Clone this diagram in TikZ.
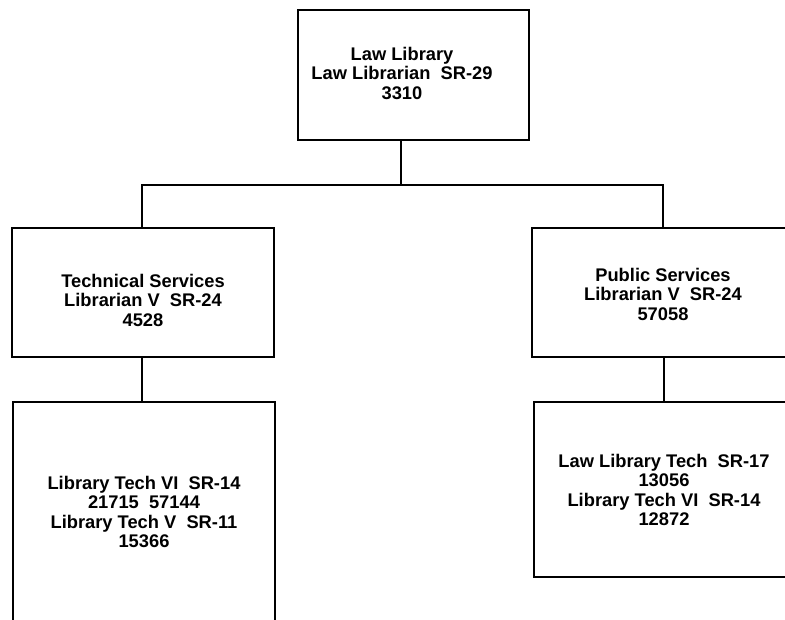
\documentclass[tikz,border=0pt]{standalone}
\usepackage{fontspec}
\setmainfont{Liberation Sans}
\begin{document}
\begin{tikzpicture}[x=1pt,y=-1pt,
  box/.style={draw=black,line width=2.8pt,fill=none},
  conn/.style={draw=black,line width=2.8pt},
  lbl/.style={align=center,font=\bfseries\fontsize{18.3}{19.5}\selectfont,inner sep=0pt}]
\useasboundingbox (0,0) rectangle (785,620);
\clip (0,0) rectangle (785,620);
% boxes
\draw[box] (298,10) rectangle (529,140);
\draw[box] (12,228) rectangle (274,357);
\draw[box] (532,228) rectangle (796,357);
\draw[box] (13,402) rectangle (275,640);
\draw[box] (534,402) rectangle (796,577);
% anchor points for connectors
\coordinate (topB) at (401,140);
\coordinate (hub) at (401,185);
\coordinate (tsT) at (142,228);
\coordinate (psT) at (663,228);
\coordinate (tsB) at (142,357);
\coordinate (psB) at (664,357);
\coordinate (ltT) at (142,402);
\coordinate (rtT) at (664,402);
\draw[conn] (topB) -- (hub);
\draw[conn] (tsT) |- (hub) -| (psT);
\draw[conn] (tsB) -- (ltT);
\draw[conn] (psB) -- (rtT);
% texts
\node[lbl] (law) at (402,73) {Law Library\\Law Librarian~~SR-29\\3310};
\node[lbl] (tech) at (143,300) {Technical Services\\Librarian V~~SR-24\\4528};
\node[lbl] (pub) at (663,294) {Public Services\\Librarian V~~SR-24\\57058};
\node[lbl] (lt) at (144,512) {Library Tech VI~~SR-14\\21715~~57144\\Library Tech V~~SR-11\\15366};
\node[lbl] (rt) at (664,490) {Law Library Tech~~SR-17\\13056\\Library Tech VI~~SR-14\\12872};
\end{tikzpicture}
\end{document}
